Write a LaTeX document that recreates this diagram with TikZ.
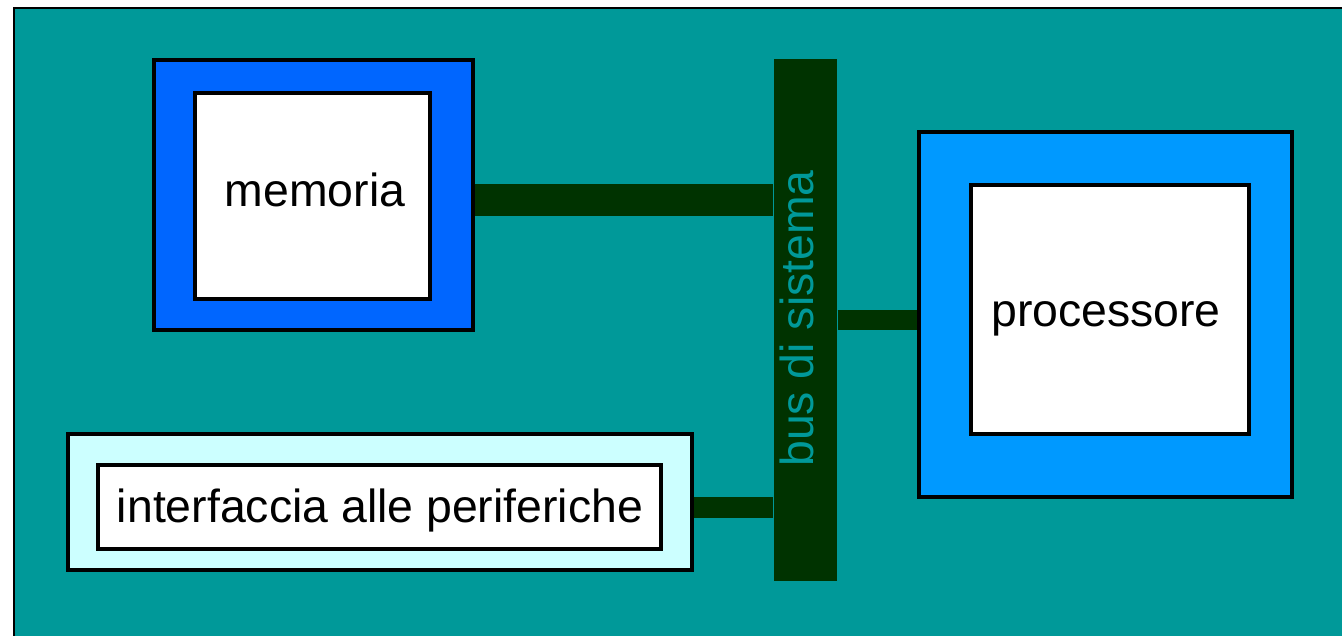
\documentclass[tikz,border=0pt]{standalone}
\usepackage{fontspec}
\setmainfont{Liberation Sans}
\definecolor{sfondo}{HTML}{009999}
\definecolor{blumem}{HTML}{0066FF}
\definecolor{bluproc}{HTML}{0099FF}
\definecolor{azzint}{HTML}{CCFFFF}
\definecolor{verdebus}{HTML}{003300}
\begin{document}
\begin{tikzpicture}[
    outer/.style={draw=black, line width=0.9pt, inner sep=0pt},
    inner/.style={draw=black, line width=0.9pt, fill=white, inner sep=0pt},
    testo/.style={anchor=base, inner sep=0pt, font=\fontsize{13.2}{15}\selectfont},
    link/.style={draw=verdebus, line cap=butt}]
  \useasboundingbox (0,0) rectangle (13.42,6.36);
  \clip (0,0) rectangle (13.42,6.36);
  \draw[fill=sfondo, line width=0.6pt] (0.14,-0.2) rectangle (13.6,6.28);
  % memoria
  \node[outer, fill=blumem, minimum width=3.19cm, minimum height=2.70cm] at (3.135,4.41) (memout) {};
  \node[inner, minimum width=2.35cm, minimum height=2.06cm] at (3.125,4.40) (mem) {};
  \node[testo] at (3.15,4.29) (memtxt) {memoria};
  % processore
  \node[outer, fill=bluproc, minimum width=3.73cm, minimum height=3.65cm] at (11.055,3.215) (procout) {};
  \node[inner, minimum width=2.78cm, minimum height=2.49cm] at (11.10,3.265) (proc) {};
  \node[testo] at (11.06,3.09) (proctxt) {processore};
  % interfaccia
  \node[outer, fill=azzint, minimum width=6.24cm, minimum height=1.36cm] at (3.80,1.34) (intout) {};
  \node[inner, minimum width=5.63cm, minimum height=0.84cm] at (3.795,1.29) (int) {};
  \node[testo] at (3.80,1.13) (inttxt) {interfaccia alle periferiche};
  % bus
  \node[fill=verdebus, inner sep=0pt, minimum width=0.63cm, minimum height=5.22cm] at (8.055,3.16) (bus) {};
  \node[rotate=90, inner sep=0pt, text=sfondo, font=\fontsize{13.2}{15}\selectfont] at (7.965,3.175) (buslabel) {bus di sistema};
  \draw[link, line width=0.32cm] ([yshift=-0.05cm]memout.east) -- ([yshift=-0.05cm]memout.east -| bus.west);
  \draw[link, line width=0.20cm] (bus.east) -- (bus.east -| procout.west);
  \draw[link, line width=0.21cm] ([yshift=-0.055cm]intout.east) -- ([yshift=-0.055cm]intout.east -| bus.west);
\end{tikzpicture}
\end{document}
